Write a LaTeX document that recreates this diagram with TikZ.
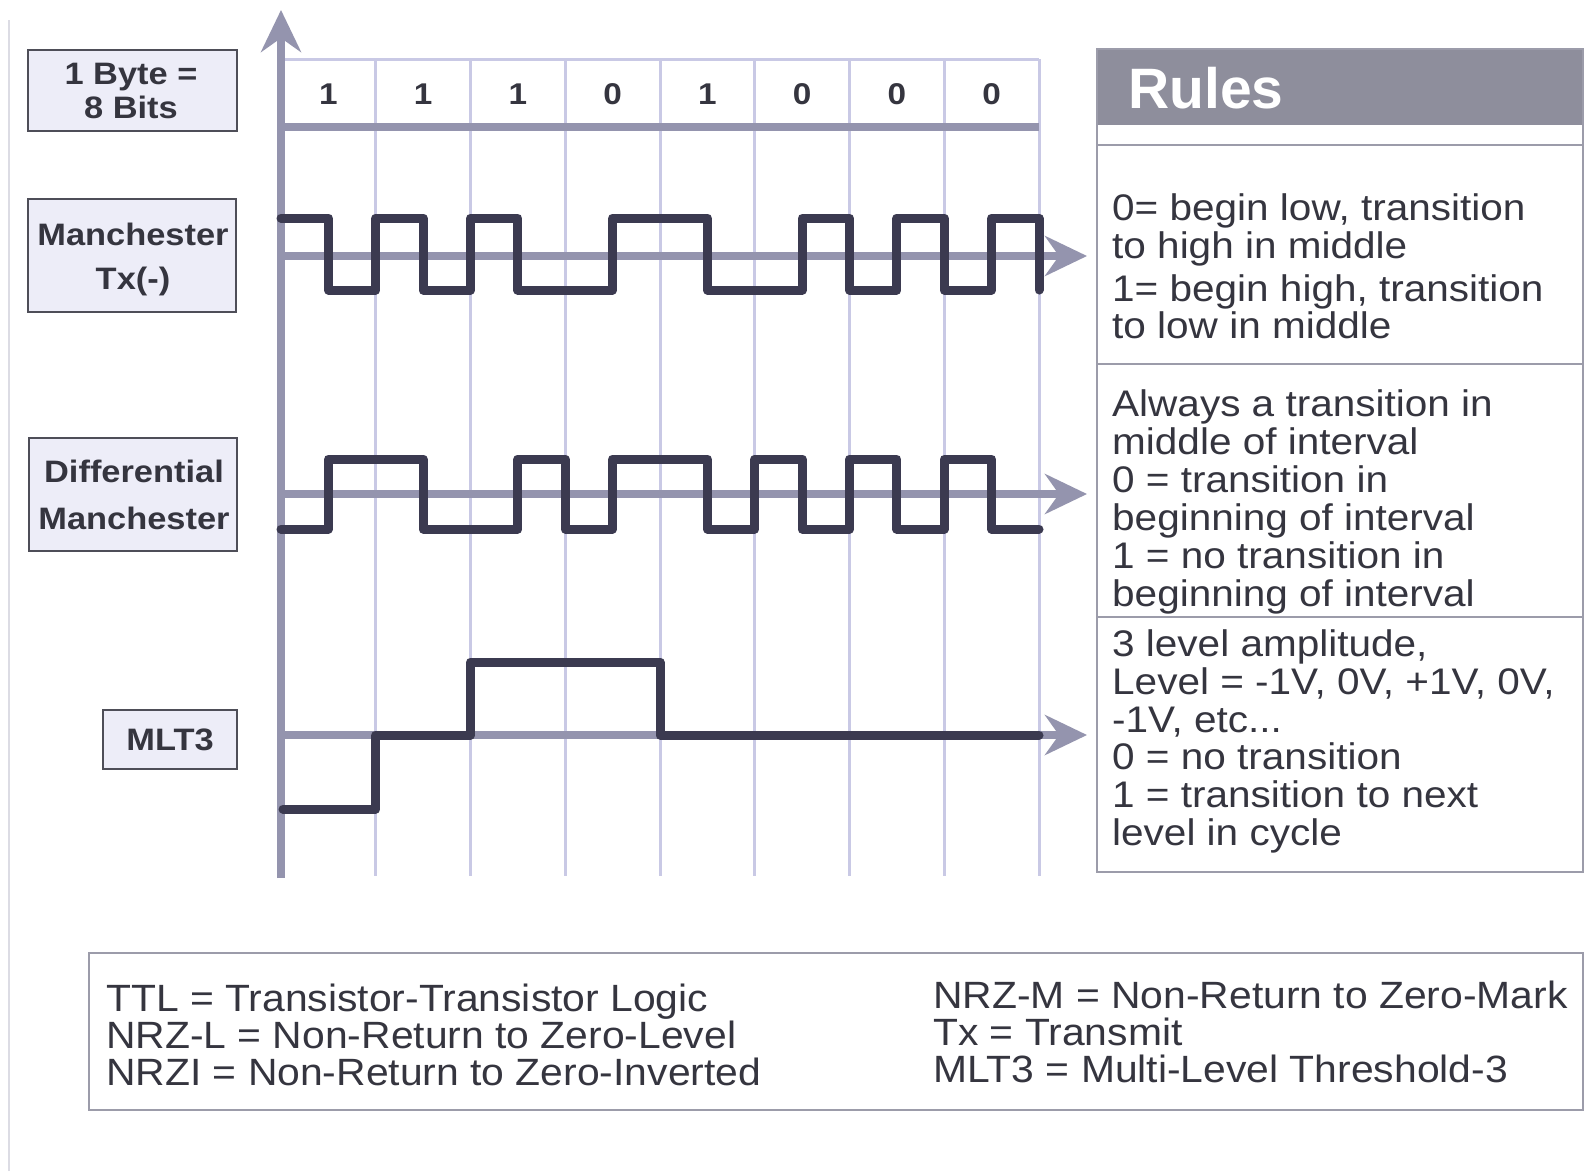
\documentclass[tikz,border=0pt]{standalone}
\usepackage{fontspec}
\setmainfont{Liberation Sans}
\newfontfamily\labelfont[FakeStretch=1.11]{Liberation Sans}
\newfontfamily\rulefont[FakeStretch=1.095]{Liberation Sans}
\newfontfamily\legendfont[FakeStretch=1.075]{Liberation Sans}
\usetikzlibrary{arrows.meta}

\definecolor{sig}{HTML}{3B3A50}
\definecolor{axisgray}{HTML}{9494AE}
\definecolor{gridlav}{HTML}{C9C9E5}
\definecolor{boxfill}{HTML}{EDEDF8}
\definecolor{boxline}{HTML}{4E4E58}
\definecolor{txt}{HTML}{35353F}
\definecolor{hdr}{HTML}{8E8E9C}
\definecolor{frame}{HTML}{9C9CAA}
\definecolor{pageedge}{HTML}{DCDCE4}

\begin{document}
\begin{tikzpicture}[x=1pt,y=-1pt,
  labelbox/.style={draw=boxline, line width=2pt, fill=boxfill, inner sep=0pt, anchor=north west},
  labeltext/.style={font=\labelfont\fontsize{31}{31}\selectfont\bfseries, text=txt, anchor=base, inner sep=0pt},
  bittext/.style={font=\labelfont\fontsize{30}{30}\selectfont\bfseries, text=txt, anchor=base, inner sep=0pt},
  ruletext/.style={font=\rulefont\fontsize{37}{37}\selectfont, text=txt, anchor=base west, inner sep=0pt},
  legendtext/.style={font=\legendfont\fontsize{38}{38}\selectfont, text=txt, anchor=base west, inner sep=0pt},
  gridline/.style={draw=gridlav, line width=3pt},
  baseline/.style={draw=axisgray, line width=8pt},
  arrowhead/.style={-{Stealth[length=42pt,width=40pt,inset=14pt]}},
  signal/.style={draw=sig, line width=9pt, line join=round, line cap=round},
  frameline/.style={draw=frame, line width=1.5pt}]

\useasboundingbox (0,0) rectangle (1585,1171);
\fill[white] (0,0) rectangle (1585,1171);
\draw[pageedge, line width=1.5pt] (9,1171) -- (9,20);

% bit cells and grid
\foreach \k in {1,2,3,4,5,6,7,8}
  \draw[gridline] ({281+94.75*\k},59) -- ({281+94.75*\k},876);
\draw[gridline] (281,59) -- (1039,59);
\draw[baseline] (281,127) -- (1039,127);
\foreach \b [count=\i] in {1,1,1,0,1,0,0,0}
  \node[bittext] (bit\i) at ({281+94.75*(\i-0.5)},104) {\b};

% time axes
\coordinate (axisfoot) at (281,878);
\coordinate (axistop) at (281,10);
\draw[baseline, arrowhead] (axisfoot) -- (axistop);
\coordinate (manL) at (281,256);  \coordinate (manR) at (1087,256);
\coordinate (difL) at (281,494);  \coordinate (difR) at (1087,494);
\coordinate (mltL) at (281,735);  \coordinate (mltR) at (1087,735);
\draw[baseline, arrowhead] (manL) -- (manR);
\draw[baseline, arrowhead] (difL) -- (difR);
\draw[baseline, arrowhead] (mltL) -- (mltR);

% Manchester Tx(-)
\draw[signal] (281,218) -- (328.4,218) -- (328.4,290) -- (375.75,290) -- (375.75,218)
  -- (423.1,218) -- (423.1,290) -- (470.5,290) -- (470.5,218) -- (517.9,218)
  -- (517.9,290) -- (612.6,290) -- (612.6,218) -- (707.4,218) -- (707.4,290)
  -- (802.1,290) -- (802.1,218) -- (849.5,218) -- (849.5,290) -- (896.9,290)
  -- (896.9,218) -- (944.25,218) -- (944.25,290) -- (991.6,290) -- (991.6,218)
  -- (1039,218) -- (1039,290);

% Differential Manchester
\draw[signal] (281,529) -- (328.4,529) -- (328.4,459) -- (423.1,459) -- (423.1,529)
  -- (517.9,529) -- (517.9,459) -- (565.25,459) -- (565.25,529) -- (612.6,529)
  -- (612.6,459) -- (707.4,459) -- (707.4,529) -- (754.75,529) -- (754.75,459)
  -- (802.1,459) -- (802.1,529) -- (849.5,529) -- (849.5,459) -- (896.9,459)
  -- (896.9,529) -- (944.25,529) -- (944.25,459) -- (991.6,459) -- (991.6,529)
  -- (1039,529);

% MLT3
\draw[signal] (283,809) -- (375.75,809) -- (375.75,735) -- (470.5,735) -- (470.5,662)
  -- (660,662) -- (660,735) -- (1039,735);

% row labels
\node[labelbox, minimum width=209pt, minimum height=81pt] (bytebox) at (27,49) {};
\node[labeltext] (byte1) at (131,84) {1 Byte =};
\node[labeltext] (byte2) at (131,118) {8 Bits};
\node[labelbox, minimum width=208pt, minimum height=113pt] (manbox) at (27,198) {};
\node[labeltext] (man1) at (133,245) {Manchester};
\node[labeltext] (man2) at (133,289) {Tx(-)};
\node[labelbox, minimum width=208pt, minimum height=113pt] (difbox) at (28,437) {};
\node[labeltext] (dif1) at (134,482) {Differential};
\node[labeltext] (dif2) at (134,529) {Manchester};
\node[labelbox, minimum width=134pt, minimum height=59pt] (mltbox) at (102,709) {};
\node[labeltext] (mlt1) at (170,750) {MLT3};

% rules table
\fill[hdr] (1097,49) rectangle (1583,125);
\draw[frameline] (1097,49) rectangle (1583,872);
\draw[frameline] (1097,145) -- (1583,145);
\draw[frameline] (1097,364) -- (1583,364);
\draw[frameline] (1097,617) -- (1583,617);
\node[font=\fontsize{57}{57}\selectfont\bfseries, text=white, anchor=base west, inner sep=0pt]
  (rulehead) at (1128,108) {Rules};

\node[ruletext] (ra1) at (1112,220) {0= begin low, transition};
\node[ruletext] (ra2) at (1112,258) {to high in middle};
\node[ruletext] (ra3) at (1112,301) {1= begin high, transition};
\node[ruletext] (ra4) at (1112,338) {to low in middle};

\node[ruletext] (rb1) at (1112,416) {Always a transition in};
\node[ruletext] (rb2) at (1112,454) {middle of interval};
\node[ruletext] (rb3) at (1112,492) {0 = transition in};
\node[ruletext] (rb4) at (1112,530) {beginning of interval};
\node[ruletext] (rb5) at (1112,568) {1 = no transition in};
\node[ruletext] (rb6) at (1112,606) {beginning of interval};

\node[ruletext] (rc1) at (1112,656) {3 level amplitude,};
\node[ruletext] (rc2) at (1112,694) {Level = -1V, 0V, +1V, 0V,};
\node[ruletext] (rc3) at (1112,732) {-1V, etc...};
\node[ruletext] (rc4) at (1112,769) {0 = no transition};
\node[ruletext] (rc5) at (1112,807) {1 = transition to next};
\node[ruletext] (rc6) at (1112,845) {level in cycle};

% abbreviations
\draw[frameline] (89,953) rectangle (1583,1110);
\node[legendtext] (la1) at (106,1011) {TTL = Transistor-Transistor Logic};
\node[legendtext] (la2) at (106,1048) {NRZ-L = Non-Return to Zero-Level};
\node[legendtext] (la3) at (106,1085) {NRZI = Non-Return to Zero-Inverted};
\node[legendtext] (lb1) at (933,1008) {NRZ-M = Non-Return to Zero-Mark};
\node[legendtext] (lb2) at (933,1045) {Tx = Transmit};
\node[legendtext] (lb3) at (933,1082) {MLT3 = Multi-Level Threshold-3};
\end{tikzpicture}
\end{document}
